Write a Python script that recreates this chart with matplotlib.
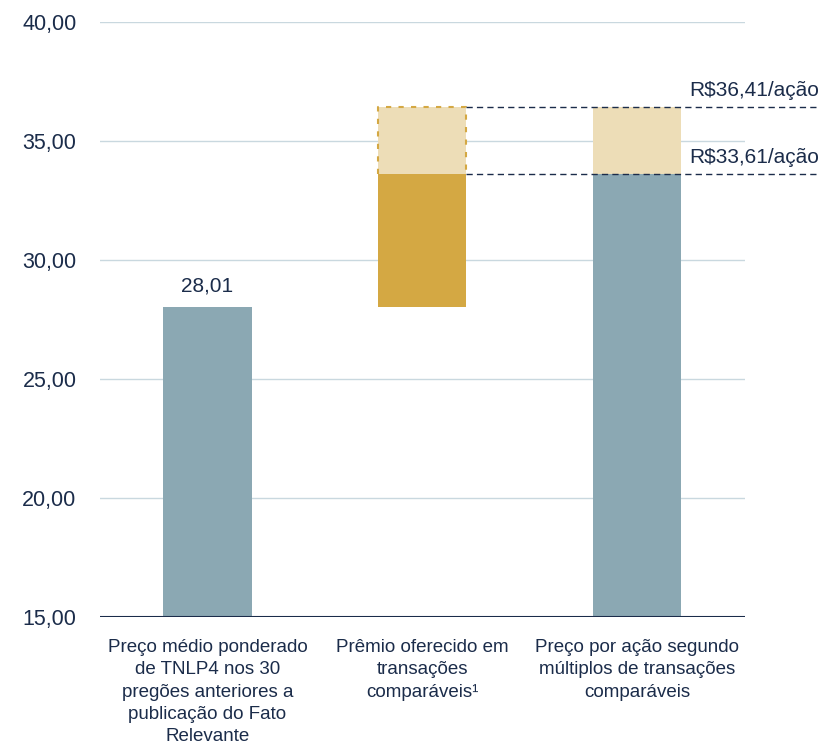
import matplotlib.pyplot as plt

# data
categories = [
    "Preço médio ponderado\nde TNLP4 nos 30\npregões anteriores a\npublicação do Fato\nRelevante",
    "Prêmio oferecido em\ntransações\ncomparáveis¹",
    "Preço por ação segundo\nmúltiplos de transações\ncomparáveis",
]
base_price = 28.01
low_value = 33.61
high_value = 36.41
ytick_values = [15, 20, 25, 30, 35, 40]
ytick_labels = ["15,00", "20,00", "25,00", "30,00", "35,00", "40,00"]
value_labels = ["R$36,41/ação", "R$33,61/ação"]

navy = "#1B2C4A"
grey_blue = "#8BA8B3"
gold = "#D4A843"
light_gold = "#EDDDB7"
grid_col = "#C9D8DF"

plt.rcParams['font.family'] = ['Liberation Sans', 'DejaVu Sans']

fig = plt.figure(figsize=(8.23, 7.48), dpi=100)
ax = fig.add_axes([0.1215, 0.1751, 0.7835, 0.7955])
ax.set_xlim(-0.5, 2.5)
ax.set_ylim(15, 40)
ymin = 15
w = 0.41

# gridlines
for v in ytick_values[1:]:
    ax.axhline(v, color=grid_col, lw=1, zorder=0)
ax.axhline(ymin, color=navy, lw=1.5, zorder=3)

# bar 1
ax.bar(0, base_price - ymin, bottom=ymin, width=w, color=grey_blue, zorder=2)
ax.text(0, base_price + 0.5, "28,01", ha='center', va='bottom',
        fontsize=15, color=navy)

# bar 2
ax.bar(1, low_value - base_price, bottom=base_price, width=w, color=gold, zorder=2)
ax.bar(1, high_value - low_value, bottom=low_value, width=w, color=light_gold, zorder=2)
x0, x1 = 1 - w / 2, 1 + w / 2
ax.plot([x0, x0, x1, x1], [low_value, high_value, high_value, low_value],
        color=gold, lw=1.5, ls=(0, (2.5, 3.5)), zorder=3)

# bar 3
ax.bar(2, low_value - ymin, bottom=ymin, width=w, color=grey_blue, zorder=2)
ax.bar(2, high_value - low_value, bottom=low_value, width=w, color=light_gold, zorder=2)

# dashed reference lines
for v, lab in zip([high_value, low_value], value_labels):
    ax.plot([x1, 2.83], [v, v], color=navy, lw=1, ls=(0, (4.5, 3)), zorder=4, clip_on=False)
    ax.text(2.845, v + 0.3, lab, ha='right', va='bottom', fontsize=15, color=navy,
            clip_on=False)

ax.set_yticks(ytick_values)
ax.set_yticklabels(ytick_labels, fontsize=15.5, color=navy)
ax.tick_params(axis='y', length=0, pad=17)
ax.set_xticks([0, 1, 2])
ax.set_xticklabels(categories, fontsize=13.5, color=navy, linespacing=1.4,
                   family=['Liberation Sans Narrow', 'Liberation Sans'])
ax.tick_params(axis='x', length=0, pad=16)

for s in ax.spines.values():
    s.set_visible(False)

fig.savefig("out.png", dpi=100)
